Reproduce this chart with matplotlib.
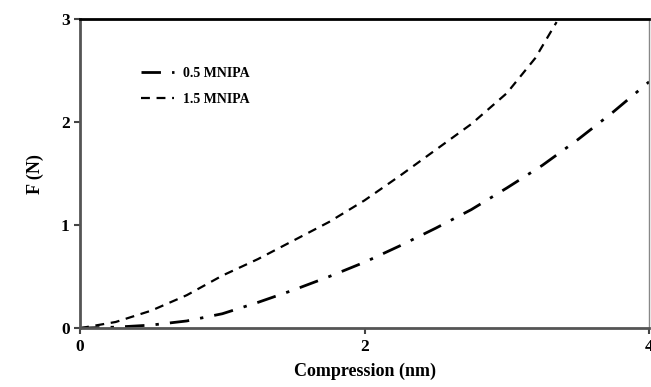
import matplotlib
matplotlib.use("Agg")
import matplotlib.pyplot as plt
import numpy as np

# Data
x_05 = [0.0, 0.25, 0.5, 0.75, 1.0, 1.25, 1.5, 1.75, 2.0, 2.25, 2.5, 2.75, 3.0, 3.25, 3.5, 3.75, 4.0]
y_05 = [0.0, 0.01, 0.03, 0.07, 0.14, 0.25, 0.37, 0.50, 0.64, 0.80, 0.97, 1.15, 1.36, 1.58, 1.83, 2.10, 2.39]
x_15 = [0.0, 0.25, 0.5, 0.75, 1.0, 1.25, 1.5, 1.75, 2.0, 2.25, 2.5, 2.75, 3.0, 3.2, 3.35]
y_15 = [0.0, 0.06, 0.17, 0.32, 0.51, 0.67, 0.85, 1.03, 1.24, 1.48, 1.73, 1.98, 2.28, 2.62, 2.97]
labels = ["0.5 MNIPA", "1.5 MNIPA"]
xticks = [0, 2, 4]
yticks = [0, 1, 2, 3]

plt.rcParams['font.family'] = ['Liberation Serif', 'DejaVu Serif']
plt.rcParams['font.weight'] = 'bold'

fig = plt.figure(figsize=(6.51, 3.87), dpi=100)
ax = fig.add_axes([0.123, 0.152, 0.874, 0.799])

ax.plot(x_05, y_05, color='black', lw=2.0, dashes=(7, 4, 1.2, 4), label=labels[0])
ax.plot(x_15, y_15, color='black', lw=1.6, dashes=(4, 3), label=labels[1])

ax.set_xlim(0, 4)
ax.set_ylim(0, 3)
ax.set_xticks(xticks)
ax.set_yticks(yticks)
ax.tick_params(direction='out', length=4, width=1.5, colors='#444444', labelcolor='black', labelsize=12.5)
for lbl in ax.get_xticklabels() + ax.get_yticklabels():
    lbl.set_fontweight('bold')

ax.spines['left'].set_color('#555555')
ax.spines['left'].set_linewidth(2)
ax.spines['bottom'].set_color('#555555')
ax.spines['bottom'].set_linewidth(2)
ax.spines['top'].set_color('black')
ax.spines['top'].set_linewidth(2)
ax.spines['right'].set_color('#888888')
ax.spines['right'].set_linewidth(1)

ax.set_xlabel("Compression (nm)", fontsize=13, fontweight='bold', labelpad=6)
ax.set_ylabel("F (N)", fontsize=13, fontweight='bold', labelpad=12)

leg = ax.legend(loc='upper left', bbox_to_anchor=(0.085, 0.885), frameon=False,
                prop={'family': 'Liberation Serif', 'weight': 'bold', 'size': 10},
                handlelength=2.4, handletextpad=0.6, labelspacing=0.95)

fig.savefig("out.png", dpi=100)
